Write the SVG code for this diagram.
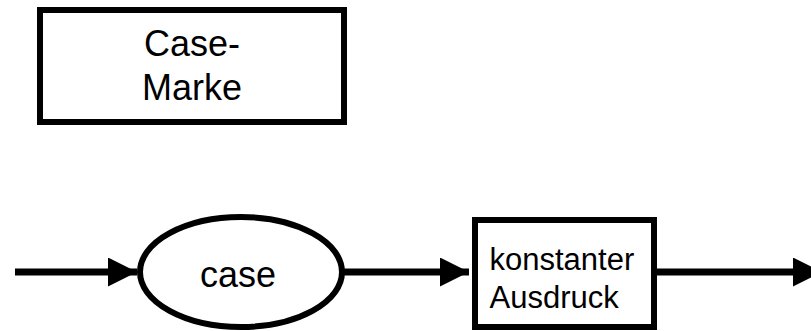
<svg xmlns="http://www.w3.org/2000/svg" width="811" height="331" viewBox="0 0 811 331">
  <defs>
    <marker id="arrow" markerUnits="userSpaceOnUse" markerWidth="30" markerHeight="30" refX="29" refY="14.5" orient="auto">
      <path d="M0,0 L29,14.5 L0,29 Z" fill="#000"/>
    </marker>
  </defs>
  <style>
    .shape { fill: #fff; stroke: #000; stroke-width: 6; }
    .conn { stroke: #000; stroke-width: 7; fill: none; marker-end: url(#arrow); }
    .lbl { font-family: "Liberation Sans", Arial, sans-serif; fill: #000; }
  </style>
  <rect width="811" height="331" fill="#fff"/>
  <g id="case-marke">
    <rect class="shape" x="40" y="10" width="304" height="112"/>
    <text class="lbl" font-size="36" text-anchor="middle" x="192" y="56">Case-</text>
    <text class="lbl" font-size="36" text-anchor="middle" x="192" y="100">Marke</text>
  </g>
  <g id="connectors">
    <line class="conn" x1="15" y1="272" x2="137" y2="272"/>
    <line class="conn" x1="342" y1="272" x2="469" y2="272"/>
    <line class="conn" x1="654" y1="272" x2="822" y2="272"/>
  </g>
  <g id="case">
    <ellipse class="shape" cx="241" cy="272" rx="101" ry="55"/>
    <text class="lbl" font-size="36" text-anchor="middle" x="238" y="287">case</text>
  </g>
  <g id="konstanter-ausdruck">
    <rect class="shape" x="475" y="220" width="179" height="107"/>
    <text class="lbl" font-size="31" x="489.5" y="270">konstanter</text>
    <text class="lbl" font-size="31" x="489.5" y="308">Ausdruck</text>
  </g>
</svg>
